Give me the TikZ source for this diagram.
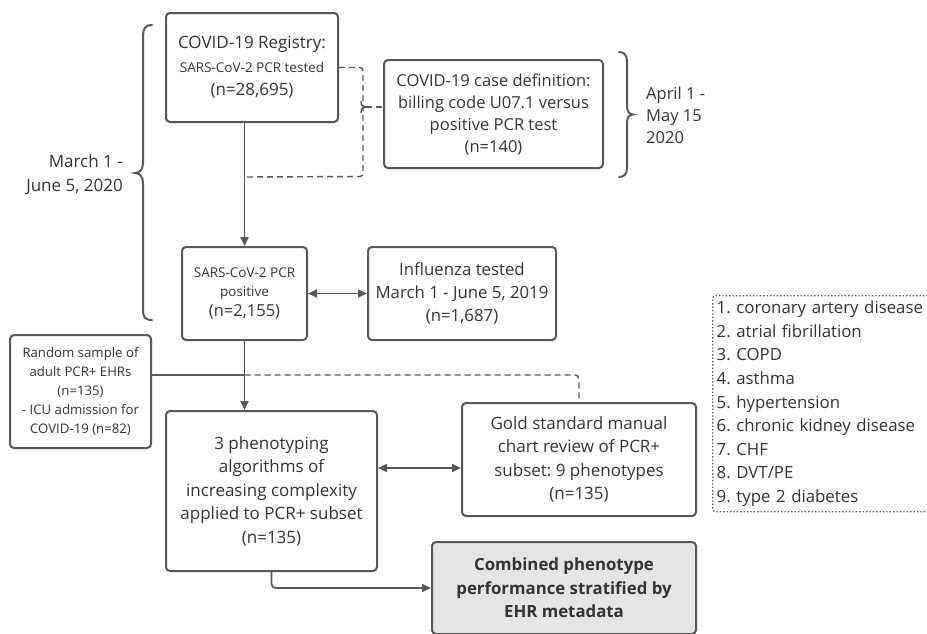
\documentclass[tikz,border=0pt]{standalone}
\usepackage{fontspec}
\setmainfont{Open Sans}
\usetikzlibrary{arrows.meta,calc}
\definecolor{linecol}{RGB}{88,88,88}
\definecolor{txtcol}{RGB}{52,52,52}
\definecolor{fillcol}{RGB}{228,228,228}
\newcommand{\fs}[2]{\fontsize{#1}{#2}\selectfont}
\frenchspacing
\tikzset{
  box/.style={draw=linecol, line width=2pt, rounded corners=4pt, text=txtcol, align=center, inner sep=0pt},
  con/.style={draw=linecol, line width=1.7pt},
  arr/.style={con, -{Triangle[length=9pt,width=8pt]}},
  dbl/.style={con, {Triangle[length=9pt,width=8pt]}-{Triangle[length=9pt,width=8pt]}},
  dashcon/.style={draw=linecol, line width=1.4pt, dash pattern=on 6pt off 4pt},
  brace/.style={draw=linecol, line width=2pt, line cap=round},
  datetxt/.style={text=txtcol, inner sep=0pt, font=\fs{17}{24}}
}
\begin{document}
\begin{tikzpicture}[x=1pt,y=-1pt]
\useasboundingbox (0,0) rectangle (927,633);
\clip (0,0) rectangle (927,633);
\fill[white] (0,0) rectangle (927,633);

% boxes
\node[box, minimum width=172pt, minimum height=109pt, font=\fs{17}{23.5}] (reg) at (252,67.5)
  {COVID-19 Registry:\\{\fs{13.5}{23.5}SARS-CoV-2 PCR tested}\\(n=28,695)};
\node[box, minimum width=219pt, minimum height=108pt, font=\fs{16.5}{22}] (cdef) at (493.5,114)
  {COVID-19 case definition:\\billing code U07.1 versus\\positive PCR test\\(n=140)};
\node[box, minimum width=125pt, minimum height=93pt, font=\fs{13.5}{18.5}] (pcr) at (244.5,293.5)
  {SARS-CoV-2 PCR\\positive\\[2pt]{\fs{16.5}{18.5}(n=2,155)}};
\node[box, minimum width=188pt, minimum height=93pt, font=\fs{16.8}{23}] (flu) at (462,293.5)
  {Influenza tested\\March 1 - June 5, 2019\\(n=1,687)};
\node[box, minimum width=141pt, minimum height=113pt, font=\fs{13.2}{18.8}] (rand) at (80.5,391.5)
  {Random sample of\\adult PCR+ EHRs\\(n=135)\\- ICU admission for\\COVID-19 (n=82)};
\node[box, minimum width=211pt, minimum height=160pt, font=\fs{17}{23.5}] (pheno) at (271.5,491)
  {3 phenotyping\\algorithms of\\increasing complexity\\applied to PCR+ subset\\(n=135)};
\node[box, minimum width=234pt, minimum height=113pt, font=\fs{17}{23.5}] (gold) at (579,459.5)
  {Gold standard manual\\chart review of PCR+\\subset: 9 phenotypes\\(n=135)};
\node[box, fill=fillcol, minimum width=264pt, minimum height=92pt, font=\bfseries\fs{16.8}{23.5}] (comb) at (564,588)
  {Combined phenotype\\performance stratified by\\EHR metadata};
\node[draw=linecol, line width=1.4pt, dotted, rounded corners=3pt, text=txtcol, align=left,
      anchor=north west, text width=210pt, inner xsep=4pt, inner ysep=0pt, minimum height=216pt,
      font=\fs{16.8}{23.6}] (list) at (712,295)
  {1. coronary artery disease\\2. atrial fibrillation\\3. COPD\\4. asthma\\5. hypertension\\6. chronic kidney disease\\7. CHF\\8. DVT/PE\\9. type 2 diabetes};

% date labels
\node[datetxt, align=right, anchor=east] (dl) at (123,175) {March 1 -\\June 5, 2020};
\node[datetxt, align=left, anchor=west, font=\fs{16.5}{22}] (dr) at (646,115) {April 1 -\\May 15\\2020};

% braces
\draw[brace] (152,25) .. controls (145,25) and (143,29) .. (143,36) -- (143,163)
  .. controls (143,169) and (140,173) .. (135,173)
  .. controls (140,173) and (143,177) .. (143,183) -- (143,310)
  .. controls (143,317) and (145,320) .. (152,320);
\draw[brace] (619,52) .. controls (624,52) and (627,55) .. (627,61) -- (627,106)
  .. controls (627,111) and (629,114.5) .. (633,114.5)
  .. controls (629,114.5) and (627,118) .. (627,123) -- (627,168)
  .. controls (627,174) and (624,177) .. (619,177);

% connectors
\draw[arr] (pcr.north |- reg.south) -- (pcr.north);
\draw[dbl] (pcr.east) -- (flu.west);
\draw[arr] (pcr.south) -- (pheno.north -| pcr.south);
\coordinate (da) at ($(pheno.east)+(0,-23)$);
\draw[dbl] (da) -- (gold.west |- da);
\draw[arr, rounded corners=4pt] (pheno.south) |- (comb.west);

% dashed bracket from registry
\draw[dashcon, rounded corners=3pt] (reg.east) -- ++(24,0) -- ++(0,109) -- (pcr.north |- 0,177);
\coordinate (tip) at ($(cdef.west)+(-17,-7)$);
\draw[draw=linecol, line width=1.4pt] ($(tip)+(-5,-6)$) .. controls ($(tip)+(-5,-1)$) and ($(tip)+(-3,0)$) .. (tip)
  .. controls ($(tip)+(-3,0)$) and ($(tip)+(-5,1)$) .. ($(tip)+(-5,6)$);
\draw[dashcon] (tip) -- (cdef.west |- tip);

% random sample line
\coordinate (rl) at ($(rand.east)+(0,-16.5)$);
\draw[con] (rl) -- (rl -| pcr.south);
\draw[dashcon, rounded corners=4pt] (rl -| pcr.south) -- (gold.north |- rl) -- (gold.north);
\end{tikzpicture}
\end{document}
